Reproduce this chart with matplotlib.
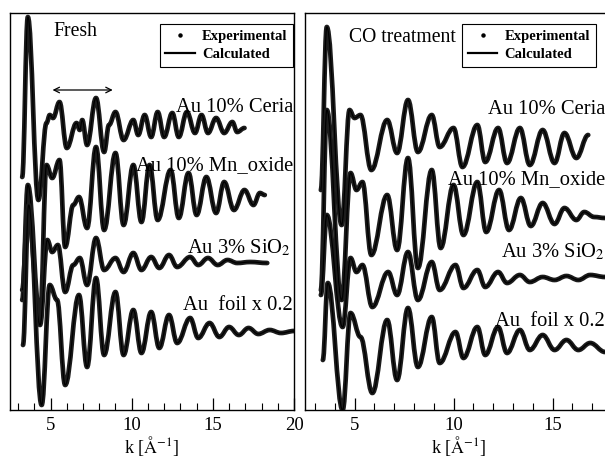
import matplotlib
matplotlib.use("Agg")
import matplotlib.pyplot as plt
from matplotlib.lines import Line2D
from matplotlib.path import Path
from matplotlib.patches import PathPatch

plt.rcParams['font.family'] = ['Liberation Serif', 'DejaVu Serif']
plt.rcParams['mathtext.fontset'] = 'stix'

# chi(k) traces, offset, arbitrary units (extrema)
# ---- Fresh ----
fresh_ceria_k = [3.25, 3.6, 4.25, 4.75, 4.95, 5.15, 5.55, 6.0, 6.6, 6.8, 6.95, 7.25, 7.8, 8.3, 8.6, 9.0, 9.5,
                 10.1, 10.4, 10.8, 11.2, 11.6, 12.0, 12.5, 12.9, 13.4, 13.9, 14.3, 14.7, 15.2, 15.7, 16.2, 16.5, 16.95]
fresh_ceria_y = [233, 393, 210, 287, 295, 292, 308, 262, 287, 280, 290, 265, 312, 258, 285, 298, 270,
                 290, 275, 295, 273, 298, 273, 297, 273, 298, 277, 295, 277, 292, 277, 288, 278, 282]

fresh_mn_k = [3.25, 3.6, 4.35, 4.75, 5.1, 5.55, 5.9, 6.4, 6.75, 7.25, 7.8, 8.3, 9.0, 9.5, 10.1, 10.6, 11.1, 11.6,
              12.4, 12.9, 13.5, 14.0, 14.6, 15.2, 15.7, 16.3, 16.95, 17.5, 17.9, 18.2]
fresh_mn_y = [110, 225, 90, 245, 232, 250, 163, 205, 213, 182, 263, 180, 257, 185, 245, 188, 245, 190,
              240, 192, 237, 195, 233, 197, 228, 200, 220, 205, 217, 215]

fresh_sio2_k = [3.25, 3.6, 4.35, 4.8, 5.1, 5.45, 5.9, 6.4, 6.8, 7.25, 7.8, 8.3, 9.0, 9.5, 10.1, 10.6, 11.2, 11.7,
                12.3, 12.8, 13.6, 14.1, 14.7, 15.3, 15.9, 16.5, 17.3, 18.35]
fresh_sio2_y = [120, 200, 85, 170, 158, 165, 118, 145, 152, 125, 172, 140, 152, 138, 157, 140, 153, 142,
                155, 143, 153, 145, 152, 145, 150, 147, 148, 147]

fresh_foil_k = [3.3, 3.65, 4.45, 4.95, 5.4, 5.9, 6.75, 7.25, 7.8, 8.3, 9.0, 9.5, 10.1, 10.6, 11.2, 11.7, 12.3, 12.8,
                13.6, 14.1, 14.8, 15.4, 16.0, 16.6, 17.2, 17.8, 18.5, 19.2, 20.0]
fresh_foil_y = [65, 205, 5, 125, 110, 25, 115, 43, 132, 55, 118, 55, 100, 57, 98, 62, 95, 67,
                92, 72, 87, 73, 83, 75, 82, 76, 80, 77, 79]

# ---- CO treatment ----
co_ceria_k = [3.3, 3.6, 4.35, 4.75, 5.0, 5.3, 5.85, 6.65, 7.15, 7.7, 8.2, 8.9, 9.3, 10.0, 10.45, 11.2, 11.6,
              12.25, 12.7, 13.35, 13.85, 14.5, 15.1, 15.6, 16.2, 16.8]
co_ceria_y = [220, 383, 185, 300, 292, 295, 240, 290, 257, 310, 258, 295, 263, 282, 243, 285, 248,
              282, 247, 282, 245, 280, 247, 277, 252, 275]

co_mn_k = [3.3, 3.6, 4.35, 4.8, 5.1, 5.4, 5.85, 6.65, 7.15, 7.7, 8.2, 8.9, 9.35, 10.0, 10.5, 11.2, 11.65,
           12.3, 12.8, 13.4, 13.9, 14.5, 15.1, 15.6, 16.2, 16.6, 17.1, 17.65]
co_mn_y = [120, 300, 110, 237, 220, 228, 155, 215, 160, 252, 142, 240, 162, 225, 175, 228, 178,
           220, 180, 212, 184, 207, 186, 202, 190, 198, 193, 192]

co_sio2_k = [3.3, 3.6, 4.4, 4.8, 5.1, 5.4, 5.9, 6.7, 7.15, 7.7, 8.2, 8.9, 9.3, 10.1, 10.5, 11.2, 11.6,
             12.25, 12.7, 13.35, 13.85, 14.5, 15.1, 15.7, 16.3, 16.9, 17.65]
co_sio2_y = [115, 195, 83, 152, 138, 145, 103, 138, 115, 158, 110, 148, 120, 145, 122, 140, 123,
             138, 127, 135, 128, 133, 130, 134, 130, 135, 133]

co_foil_k = [3.4, 3.65, 4.4, 4.8, 5.3, 5.9, 6.65, 7.15, 7.7, 8.2, 8.9, 9.3, 10.1, 10.5, 11.2, 11.6,
             12.25, 12.7, 13.35, 13.85, 14.5, 15.1, 15.7, 16.3, 16.9, 17.65]
co_foil_y = [50, 127, 0, 97, 73, 17, 90, 30, 102, 43, 93, 47, 78, 52, 83, 55,
             83, 57, 80, 60, 75, 60, 70, 60, 67, 58]

fresh = [(fresh_ceria_k, fresh_ceria_y), (fresh_mn_k, fresh_mn_y),
         (fresh_sio2_k, fresh_sio2_y), (fresh_foil_k, fresh_foil_y)]
co = [(co_ceria_k, co_ceria_y), (co_mn_k, co_mn_y),
      (co_sio2_k, co_sio2_y), (co_foil_k, co_foil_y)]

names = ['Au 10% Ceria', 'Au 10% Mn_oxide', 'Au 3% SiO$_2$', 'Au  foil x 0.2']
fresh_label_xy = [(19.95, 302), (19.95, 244), (19.8, 162), (19.95, 105)]
co_label_xy = [(17.65, 300), (17.65, 230), (17.65, 158), (17.65, 88)]

fig = plt.figure(figsize=(6.05, 4.61), dpi=100)
ax1 = fig.add_axes([10 / 605, 51 / 461, 284 / 605, 397 / 461])
ax2 = fig.add_axes([305 / 605, 51 / 461, 307 / 605, 397 / 461])


def smooth_path(k, y):
    # cubic bezier through the read extrema, flat tangents at each one
    verts = [(k[0], y[0])]
    codes = [Path.MOVETO]
    for i in range(len(k) - 1):
        d = (k[i + 1] - k[i]) / 2.6
        verts += [(k[i] + d, y[i]), (k[i + 1] - d, y[i + 1]), (k[i + 1], y[i + 1])]
        codes += [Path.CURVE4] * 3
    return Path(verts, codes)


def draw(ax, traces, label_xy, xmax, title, title_x, title_y, leg_anchor, ticks):
    for (k, y), name, (tx, ty) in zip(traces, names, label_xy):
        p = smooth_path(k, y)
        ax.add_patch(PathPatch(p, fill=False, edgecolor='#1c1c1c', lw=3.4,
                               joinstyle='round', capstyle='round'))
        ax.add_patch(PathPatch(p, fill=False, edgecolor='k', lw=0.9))
        ax.text(tx, ty, name, ha='right', va='center', fontsize=14.8)
    ax.set_xlim(2.5, xmax)
    ax.set_ylim(0, 397)
    ax.set_yticks([])
    ax.set_xticks(ticks)
    ax.set_xticks(range(3, int(xmax) + 1), minor=True)
    ax.tick_params(axis='x', which='major', direction='in', length=9, width=0.9,
                   labelsize=13.5, pad=5)
    ax.tick_params(axis='x', which='minor', direction='in', length=5, width=0.8)
    for s in ax.spines.values():
        s.set_linewidth(1.0)
    ax.set_xlabel(r'k [$\mathrm{\AA}^{-1}$]', fontsize=13, labelpad=0)
    ax.text(title_x, title_y, title, fontsize=14.2, va='center')
    handles = [Line2D([], [], marker='o', ls='none', color='k', ms=2.2),
               Line2D([], [], color='k', lw=1.6)]
    leg = ax.legend(handles, ['Experimental', 'Calculated'], loc='upper right',
                    bbox_to_anchor=leg_anchor, fancybox=False, framealpha=1,
                    edgecolor='k', prop={'size': 10.5, 'weight': 'bold'},
                    handlelength=2.0, borderpad=0.4, labelspacing=0.3,
                    handletextpad=0.5, borderaxespad=0)
    leg.get_frame().set_linewidth(0.8)


draw(ax1, fresh, fresh_label_xy, 20, 'Fresh', 5.2, 378, (0.997, 0.972), [5, 10, 15, 20])
draw(ax2, co, co_label_xy, 18, 'CO treatment', 4.7, 372, (0.948, 0.972), [5, 10, 15])

# double arrow marking the k-range in the Fresh panel
ax1.annotate('', xy=(4.95, 320), xytext=(9.0, 320),
             arrowprops=dict(arrowstyle='<->', color='k', lw=0.9))

fig.savefig('out.png', dpi=100)
